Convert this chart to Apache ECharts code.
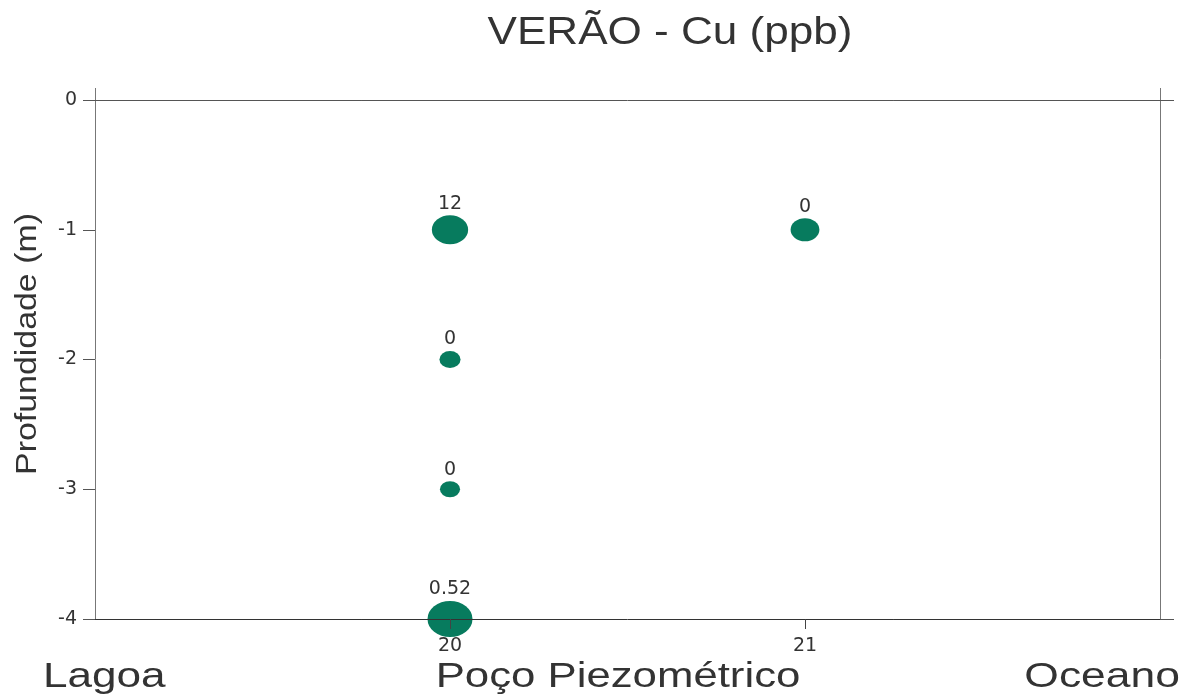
<!DOCTYPE html>
<html>
<head>
<meta charset="utf-8">
<script src="https://cdn.jsdelivr.net/npm/echarts@6/dist/echarts.min.js"></script>
<style>
html,body{margin:0;padding:0;background:#fff;}
#chart{width:1190px;height:700px;}
</style>
</head>
<body>
<div id="chart"></div>
<script>
// ---- data ----
const titleText = 'VERÃO - Cu (ppb)';
const yAxisTitle = 'Profundidade (m)';
const regionLabels = ['Lagoa', 'Poço Piezométrico', 'Oceano'];
const stations = [20, 20, 20, 20, 21];
const depths = [-1, -2, -3, -4, -1];
const cuValues = [12, 0, 0, 0.52, 0];
const bubbleWeight = [0.65, 0.22, 0.2, 1.0, 0.41];
const xTickValues = [20, 21];
const yTickValues = [0, -1, -2, -3, -4];

const chart = echarts.init(document.getElementById('chart'));
const textColor = '#333';
const numFont = 'DejaVu Sans';

const points = stations.map((s, i) => [s, depths[i], cuValues[i], bubbleWeight[i]]);

const option = {
  backgroundColor: '#fff',
  animation: false,
  grid: { left: 95, right: 30, top: 100, bottom: 81, containLabel: false },
  xAxis: [
    {
      type: 'value', position: 'bottom', min: 19, max: 22, interval: 1, z: 5,
      axisLine: { show: true, onZero: false, lineStyle: { color: '#333', width: 1 } },
      axisTick: { show: true, inside: false, length: 10, customValues: xTickValues, lineStyle: { color: '#444' } },
      axisLabel: { show: true, customValues: xTickValues, margin: 18, fontFamily: numFont, fontSize: 19, color: textColor },
      splitLine: { show: false }
    },
    {
      type: 'value', position: 'top', min: 19, max: 22, interval: 1, z: 5,
      axisLine: { show: true, onZero: false, lineStyle: { color: '#555', width: 1 } },
      axisTick: { show: true, inside: false, length: 12, customValues: [19, 22], lineStyle: { color: '#777' } },
      axisLabel: { show: false },
      splitLine: { show: false }
    }
  ],
  yAxis: [
    {
      type: 'value', position: 'left', min: -4, max: 0, interval: 1, z: 5,
      axisLine: { show: true, onZero: false, lineStyle: { color: '#777', width: 1 } },
      axisTick: { show: true, inside: false, length: 12, customValues: yTickValues, lineStyle: { color: '#555' } },
      axisLabel: { show: true, customValues: yTickValues, margin: 18, fontFamily: numFont, fontSize: 19, color: textColor },
      splitLine: { show: false }
    },
    {
      type: 'value', position: 'right', min: -4, max: 0, interval: 1, z: 5,
      axisLine: { show: true, onZero: false, lineStyle: { color: '#777', width: 1 } },
      axisTick: { show: true, inside: false, length: 14, customValues: [0, -4], lineStyle: { color: '#555' } },
      axisLabel: { show: false },
      splitLine: { show: false }
    }
  ],
  graphic: [
    {
      type: 'text', x: 670, y: 34, scaleX: 1.16, z: 10,
      style: { text: titleText, font: '38px "Liberation Sans", Arial, sans-serif', fill: textColor, textAlign: 'center', textVerticalAlign: 'middle' }
    },
    {
      type: 'text', x: 28, y: 344, rotation: Math.PI / 2, scaleX: 1.13, z: 10,
      style: { text: yAxisTitle, font: '30px "Liberation Sans", Arial, sans-serif', fill: textColor, textAlign: 'center', textVerticalAlign: 'middle' }
    },
    {
      type: 'text', x: 43, y: 677, scaleX: 1.26, z: 10,
      style: { text: regionLabels[0], font: '35px "Liberation Sans", Arial, sans-serif', fill: textColor, textAlign: 'left', textVerticalAlign: 'middle' }
    },
    {
      type: 'text', x: 618, y: 677, scaleX: 1.25, z: 10,
      style: { text: regionLabels[1], font: '35px "Liberation Sans", Arial, sans-serif', fill: textColor, textAlign: 'center', textVerticalAlign: 'middle' }
    },
    {
      type: 'text', x: 1180, y: 677, scaleX: 1.27, z: 10,
      style: { text: regionLabels[2], font: '35px "Liberation Sans", Arial, sans-serif', fill: textColor, textAlign: 'right', textVerticalAlign: 'middle' }
    }
  ],
  series: [
    {
      type: 'scatter',
      xAxisIndex: 0, yAxisIndex: 0,
      clip: false,
      z: 2,
      data: points,
      symbol: 'circle',
      symbolSize: function (val) {
        const k = Math.sqrt(val[3]);
        return [45 * k, 36 * k];
      },
      itemStyle: { color: '#077b5e', opacity: 1 },
      label: {
        show: true, position: 'top', distance: 2,
        formatter: function (p) { return String(p.value[2]); },
        fontFamily: numFont, fontSize: 19, color: textColor
      },
      emphasis: { disabled: true }
    }
  ]
};
chart.setOption(option);
</script>
</body>
</html>
